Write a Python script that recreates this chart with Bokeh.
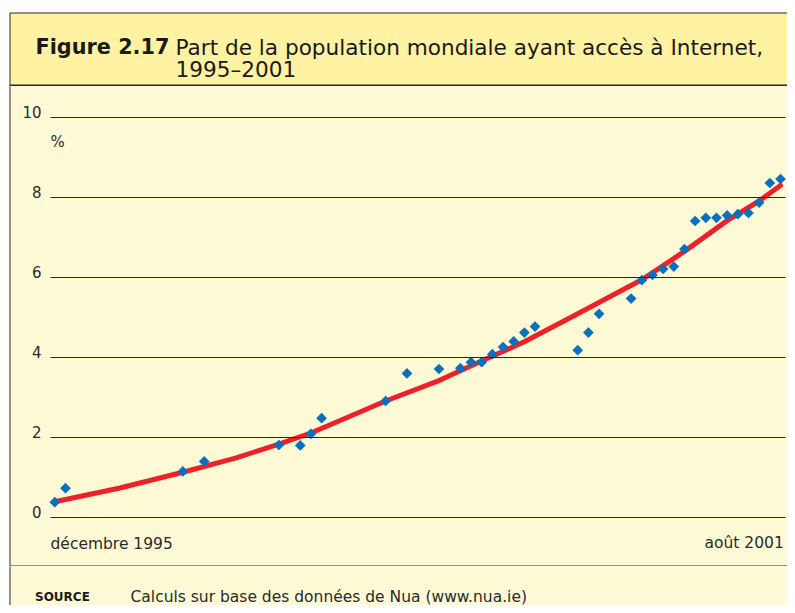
import numpy as np
from bokeh.plotting import figure
from bokeh.layouts import column
from bokeh.models import Range1d, LinearAxis, FixedTicker, Grid
from bokeh.core.properties import value
from bokeh.embed import file_html
from bokeh.resources import INLINE

# ---------------- data ----------------
title_bold = "Figure 2.17"
title_line1 = "Part de la population mondiale ayant accès à Internet,"
title_line2 = "1995–2001"
x_first_label = "décembre 1995"
x_last_label = "août 2001"
unit_label = "%"
source_head = "SOURCE"
source_text = "Calculs sur base des données de Nua (www.nua.ie)"

# months since December 1995 (0 = déc. 1995, 68 = août 2001)
months = [0, 1, 12, 14, 21, 23, 24, 25, 31, 33, 36, 38, 39, 40, 41, 42, 43, 44, 45,
          49, 50, 51, 54, 55, 56, 57, 58, 59, 60, 61, 62, 63, 64, 65, 66, 67, 68]
share = [0.39, 0.74, 1.16, 1.41, 1.82, 1.81, 2.10, 2.49, 2.92, 3.61, 3.72, 3.74, 3.89,
         3.89, 4.09, 4.27, 4.41, 4.63, 4.78, 4.19, 4.63, 5.10, 5.48, 5.94, 6.07, 6.22,
         6.28, 6.72, 7.42, 7.50, 7.50, 7.56, 7.59, 7.62, 7.88, 8.37, 8.47]

# trend curve
trend_months = [0, 6, 12, 17, 21, 24, 31, 36, 40, 44, 49, 55, 59, 63, 66, 68]
trend_share = [0.40, 0.74, 1.14, 1.50, 1.84, 2.12, 2.92, 3.43, 3.92, 4.40, 5.10,
               5.95, 6.66, 7.43, 7.92, 8.31]

y_ticks = [0, 2, 4, 6, 8, 10]

# ---------------- styles ----------------
W = 787
FONT = "DejaVu Sans"
TXT = "#2a2a2a"
LINE = "#262626"
BAND = "#fff2a2"
PALE = "#fffad6"
BLUE = "#0a6fbd"
RED = "#ec2228"


def deco_fig(h):
    f = figure(width=W, height=h, x_range=Range1d(0, W), y_range=Range1d(h, 0),
               x_axis_type=None, y_axis_type=None, min_border=0, title=None,
               toolbar_location=None, output_backend="svg",
               background_fill_color="white", border_fill_color="white",
               outline_line_color=None)
    return f


# ---------------- title band ----------------
HA = 86
pa = deco_fig(HA)
pa.quad(left=[9.5], right=[900], top=[12.5], bottom=[200], fill_color=BAND,
        line_color=LINE, line_width=1)
pa.quad(left=[9], right=[900], top=[84], bottom=[86], fill_color=LINE, line_color=None)
pa.text(x=[35], y=[46.7], text=[title_bold], text_font=value(FONT),
        text_font_style="bold", text_font_size="20.8px", text_color="#1a1a1a",
        text_baseline="alphabetic", text_align="left")
pa.text(x=[175, 175], y=[46.7, 68.5], text=[title_line1, title_line2],
        text_font=value(FONT), text_font_size="21.6px", text_color="#1a1a1a",
        text_baseline="alphabetic", text_align="left")

# ---------------- chart ----------------
TOPB = HA
HB = 480
PX0 = 54.3                      # page x of month 0
PPM = (780.0 - PX0) / 68.0      # pixels per month
PY0 = 517.3                     # page y of value 0
PPU = 40.0                      # pixels per unit


def mx(px):
    return (px - PX0) / PPM


def vy(py):
    return (PY0 - py) / PPU


pb = figure(width=W, height=HB, x_range=Range1d(mx(0), mx(W)),
            y_range=Range1d(vy(TOPB + HB), vy(TOPB)),
            x_axis_type=None, y_axis_type=None, min_border=0, title=None,
            toolbar_location=None, output_backend="svg",
            background_fill_color="white", border_fill_color="white",
            outline_line_color=None)

pb.quad(left=[mx(9.5)], right=[200], bottom=[vy(565.5)], top=[100],
        fill_color=PALE, line_color=LINE, line_width=1)

grid = Grid(dimension=1, ticker=FixedTicker(ticks=y_ticks), level="glyph",
            cross_bounds=(mx(50), mx(785)), grid_line_color=LINE, grid_line_width=1)
pb.add_layout(grid)

shift = 5.8 / PPU
pb.extra_y_ranges = {"lab": Range1d(vy(TOPB + HB) - shift, vy(TOPB) - shift)}
yax = LinearAxis(y_range_name="lab", ticker=FixedTicker(ticks=y_ticks),
                 fixed_location=mx(50), axis_line_color=None,
                 major_tick_line_color=None, minor_tick_line_color=None,
                 major_tick_out=0, minor_tick_out=0, major_label_standoff=9,
                 major_label_text_font=FONT, major_label_text_font_size="15px",
                 major_label_text_color=TXT)
pb.add_layout(yax, "left")

pb.line(trend_months, trend_share, line_color=RED, line_width=5,
        line_join="round", line_cap="round")
pb.scatter(months, share, marker="square", size=7.6, angle=np.pi / 4,
           fill_color=BLUE, line_color=None)

pb.text(x=[mx(50)], y=[vy(141)], text=[unit_label], text_font=value(FONT),
        text_font_size="15px", text_color=TXT, text_baseline="alphabetic",
        text_align="left")
pb.text(x=[mx(50)], y=[vy(543.3)], text=[x_first_label], text_font=value(FONT),
        text_font_size="15.5px", text_color=TXT, text_baseline="alphabetic",
        text_align="left")
pb.text(x=[mx(783.3)], y=[vy(542.8)], text=[x_last_label], text_font=value(FONT),
        text_font_size="15.5px", text_color=TXT, text_baseline="alphabetic",
        text_align="right")

# ---------------- source band ----------------
HC = 605 - HA - HB
TOPC = TOPB + HB
pc = deco_fig(HC)
pc.quad(left=[9.5], right=[900], top=[-10], bottom=[200], fill_color=PALE,
        line_color=LINE, line_width=1)
pc.text(x=[34.5], y=[596 - TOPC], text=[source_head], text_font=value(FONT),
        text_font_style="bold", text_font_size="12px", text_color="#1a1a1a",
        text_baseline="alphabetic", text_align="left")
pc.text(x=[130], y=[596.5 - TOPC], text=[source_text], text_font=value(FONT),
        text_font_size="15.5px", text_color=TXT, text_baseline="alphabetic",
        text_align="left")

layout = column(pa, pb, pc, spacing=0)
open("out.html", "w").write(file_html(layout, INLINE))
